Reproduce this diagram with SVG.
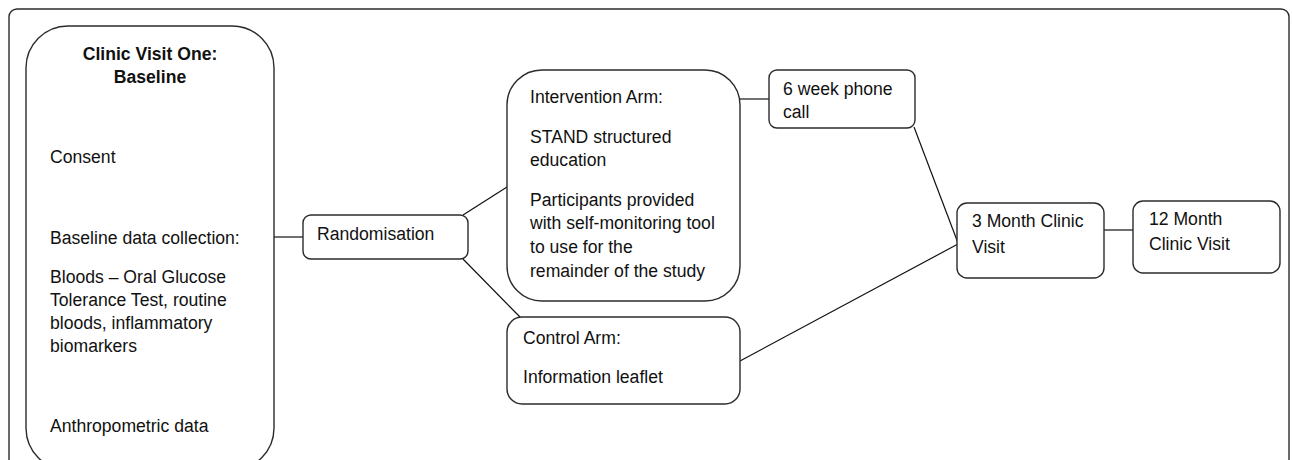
<svg xmlns="http://www.w3.org/2000/svg" width="1292" height="460" viewBox="0 0 1292 460">
<style>
.box{fill:#fff;stroke:#2b2b2b;stroke-width:1.4}
.frame{fill:none;stroke:#2b2b2b;stroke-width:1.4}
.ln{stroke:#111;stroke-width:1.2;fill:none}
text{font-family:"Liberation Sans",Arial,sans-serif;font-size:17.6px;fill:#111}
.b{font-weight:bold;text-anchor:middle}
</style>
<rect width="1292" height="460" fill="#fff"/>
<rect class="frame" x="9" y="9" width="1280" height="480" rx="8"/>
<g id="connectors">
<line class="ln" x1="274" y1="237" x2="303" y2="237"/>
<line class="ln" x1="463" y1="215" x2="507" y2="187"/>
<line class="ln" x1="463" y1="259" x2="520" y2="317"/>
<line class="ln" x1="740" y1="99" x2="769" y2="99"/>
<line class="ln" x1="914" y1="127" x2="958" y2="243"/>
<line class="ln" x1="740" y1="361" x2="958" y2="244"/>
<line class="ln" x1="1104" y1="230" x2="1133" y2="230"/>
</g>
<g id="baseline">
<rect class="box" x="26" y="26" width="248" height="444" rx="42"/>
<text class="b" x="150" y="60">Clinic Visit One:</text>
<text class="b" x="150" y="83">Baseline</text>
<text x="50" y="163">Consent</text>
<text x="50" y="244">Baseline data collection:</text>
<text x="50" y="283">Bloods – Oral Glucose</text>
<text x="50" y="306">Tolerance Test, routine</text>
<text x="50" y="329">bloods, inflammatory</text>
<text x="50" y="352">biomarkers</text>
<text x="50" y="432">Anthropometric data</text>
</g>
<g id="randomisation">
<rect class="box" x="303" y="215" width="165" height="44" rx="8"/>
<text x="317" y="240">Randomisation</text>
</g>
<g id="intervention">
<rect class="box" x="507" y="70" width="233" height="231" rx="35"/>
<text x="530" y="103">Intervention Arm:</text>
<text x="530" y="143">STAND structured</text>
<text x="530" y="166">education</text>
<text x="530" y="206">Participants provided</text>
<text x="530" y="229">with self-monitoring tool</text>
<text x="530" y="253">to use for the</text>
<text x="530" y="277">remainder of the study</text>
</g>
<g id="control">
<rect class="box" x="507" y="317" width="233" height="87" rx="15"/>
<text x="523" y="344">Control Arm:</text>
<text x="523" y="383">Information leaflet</text>
</g>
<g id="phone">
<rect class="box" x="769" y="70" width="146" height="58" rx="8"/>
<text x="783" y="95">6 week phone</text>
<text x="783" y="118">call</text>
</g>
<g id="month3">
<rect class="box" x="957" y="203" width="147" height="75" rx="10"/>
<text x="972" y="227">3 Month Clinic</text>
<text x="972" y="253">Visit</text>
</g>
<g id="month12">
<rect class="box" x="1133" y="201" width="147" height="72" rx="10"/>
<text x="1149" y="225">12 Month</text>
<text x="1149" y="250">Clinic Visit</text>
</g>
</svg>
